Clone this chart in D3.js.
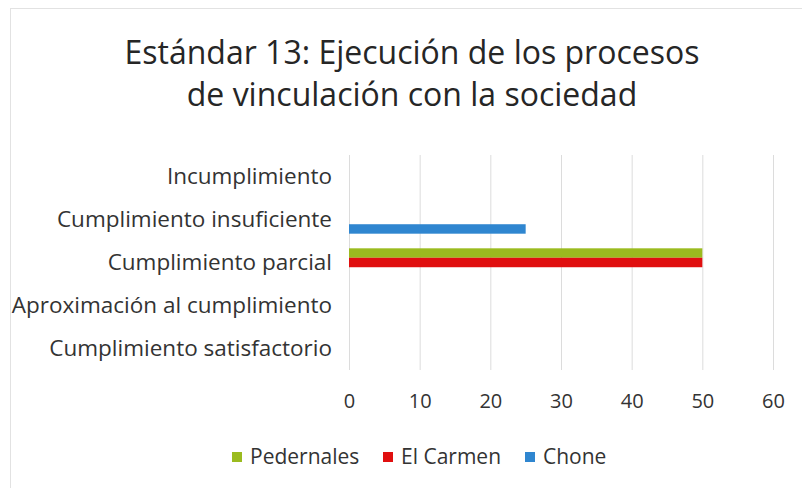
<!DOCTYPE html>
<html>
<head>
<meta charset="utf-8">
<script src="https://cdn.jsdelivr.net/npm/d3@7"></script>
<style>
  html, body { margin: 0; padding: 0; background: #fff; }
  svg { display: block; font-family: "Open Sans", Lato, sans-serif; }
</style>
</head>
<body>
<div id="chart"></div>
<script>
// Categories top to bottom, as in the picture
const categories = [
  'Incumplimiento',
  'Cumplimiento insuficiente',
  'Cumplimiento parcial',
  'Aproximación al cumplimiento',
  'Cumplimiento satisfactorio'
];
const seriesNames = ['Pedernales', 'El Carmen', 'Chone'];
const seriesColors = ['#9bbb1f', '#e00f0f', '#2f86d0'];
// values per category, per series (Pedernales, El Carmen, Chone)
const pedernales = [0, 0, 50, 0, 0];
const elCarmen   = [0, 0, 50, 0, 0];
const chone      = [0, 25, 0, 0, 0];
const xTicks = [0, 10, 20, 30, 40, 50, 60];
const titleLines = ['Estándar 13: Ejecución de los procesos', 'de vinculación con la sociedad'];

const W = 802, H = 488;
const M = { top: 155, right: 29, bottom: 118, left: 349 };
const innerW = W - M.left - M.right;
const innerH = H - M.top - M.bottom;
const ink = '#333';

const svg = d3.select('#chart').append('svg').attr('width', W).attr('height', H);

// faint chart frame
svg.append('rect').attr('x', 10.5).attr('y', 8.5).attr('width', 820).attr('height', 520)
  .attr('fill', 'none').attr('stroke', '#e2e2e2');

svg.append('g').selectAll('text').data(titleLines).join('text')
  .attr('x', 412).attr('y', (d, i) => 64 + i * 42)
  .attr('text-anchor', 'middle').attr('fill', '#262626').attr('font-size', 32)
  .text(d => d);

const g = svg.append('g').attr('transform', `translate(${M.left},${M.top})`);

const x = d3.scaleLinear().domain([0, 60]).range([0, innerW]);
const y = d3.scaleBand().domain(categories).range([0, innerH]).paddingInner(0.34).paddingOuter(0.17);
const y1 = d3.scaleBand().domain(seriesNames).range([0, y.bandwidth()]);

// vertical gridlines
g.append('g')
  .call(d3.axisBottom(x).tickValues(xTicks).tickSize(innerH).tickFormat(''))
  .call(s => {
    s.select('.domain').remove();
    s.selectAll('line').attr('stroke', '#dcdcdc');
  });

// x tick labels
g.append('g').attr('transform', `translate(0,${innerH})`)
  .call(d3.axisBottom(x).tickValues(xTicks).tickSize(0).tickPadding(24))
  .call(s => {
    s.select('.domain').remove();
    s.selectAll('text').attr('fill', ink).attr('font-size', 20).attr('font-family', '"Open Sans", sans-serif');
  });

// category labels
g.append('g')
  .call(d3.axisLeft(y).tickSize(0).tickPadding(17))
  .call(s => {
    s.select('.domain').remove();
    s.selectAll('text').attr('fill', ink).attr('font-size', 22.5).attr('font-family', '"Open Sans", sans-serif');
  });

const data = [pedernales, elCarmen, chone];
categories.forEach((c, ci) => {
  seriesNames.forEach((name, si) => {
    const v = data[si][ci];
    if (!v) return;
    g.append('rect')
      .attr('x', x(0)).attr('y', y(c) + y1(name))
      .attr('width', x(v) - x(0)).attr('height', y1.bandwidth())
      .attr('fill', seriesColors[si]);
  });
});

// legend
const legendX = [232, 383, 525];
const lg = svg.append('g').attr('transform', 'translate(0,457)');
seriesNames.forEach((name, i) => {
  lg.append('rect').attr('x', legendX[i]).attr('y', -5).attr('width', 10).attr('height', 10)
    .attr('fill', seriesColors[i]);
  lg.append('text').attr('x', legendX[i] + 18).attr('y', 0).attr('dy', '0.35em')
    .attr('fill', ink).attr('font-size', 21).text(name);
});
</script>
</body>
</html>
